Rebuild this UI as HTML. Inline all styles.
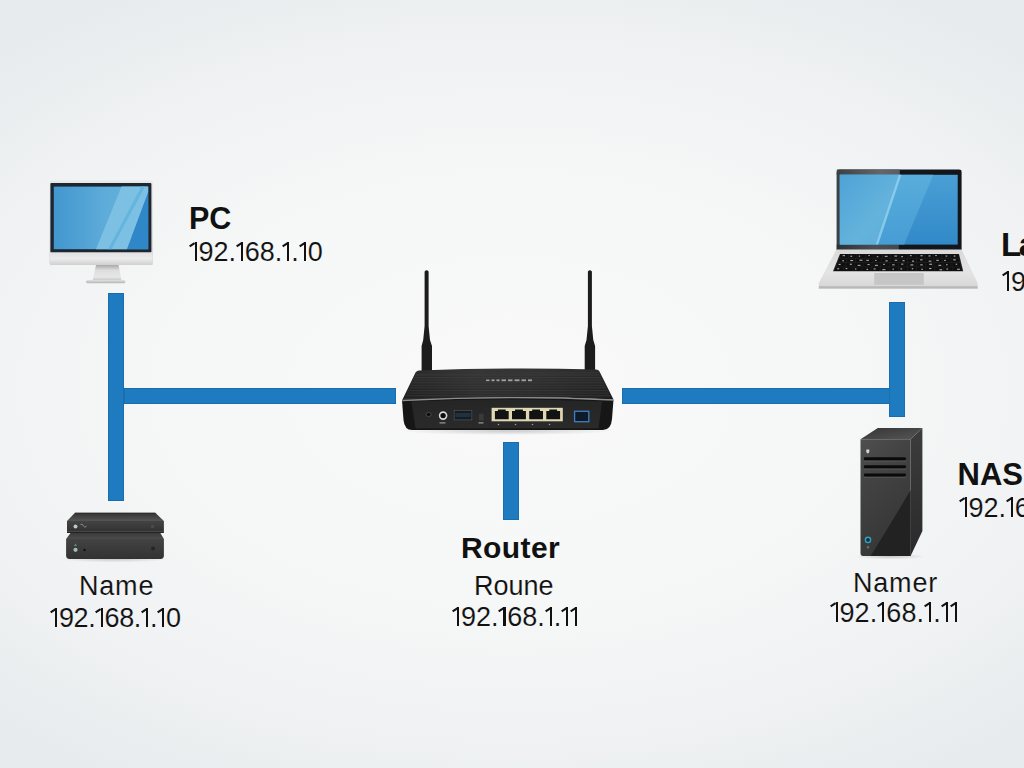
<!DOCTYPE html>
<html><head><meta charset="utf-8">
<style>
html,body{margin:0;padding:0;}
body{width:1024px;height:768px;position:relative;overflow:hidden;
 background:radial-gradient(ellipse 760px 460px at 512px 390px,#f9f9f9 0%,#f6f7f7 45%,#f0f2f3 75%,#e7ebed 100%);
 font-family:"Liberation Sans",sans-serif;color:#111;}
.ln{position:absolute;background:#1f7bc0;box-shadow:inset 0 0 0 0.7px rgba(10,50,90,0.25);}
.t{position:absolute;white-space:nowrap;line-height:1;}
.b{font-weight:bold;}
.r,.ip{font-size:27px;-webkit-text-stroke:0.12px #f4f5f5;}
.ip i{display:inline-block;position:relative;width:8.9px;height:19.4px;vertical-align:baseline;}
.ip i::before{content:"";position:absolute;right:1.8px;bottom:0;width:2.1px;height:19.4px;background:#111}
.ip i::after{content:"";position:absolute;right:3.6px;top:0;width:6.4px;height:2px;background:#111;transform-origin:right top;transform:rotate(-34deg)}
svg{position:absolute;overflow:visible;}

</style></head><body>
<svg width="1024" height="768" style="left:0;top:0">
<defs>
 <linearGradient id="silv" x1="0" y1="0" x2="0" y2="1">
  <stop offset="0" stop-color="#e9e9e9"/><stop offset="1" stop-color="#d3d3d3"/>
 </linearGradient>
 <linearGradient id="chin" x1="0" y1="0" x2="0" y2="1">
  <stop offset="0" stop-color="#e2e2e2"/><stop offset="0.5" stop-color="#ebebeb"/><stop offset="1" stop-color="#d0d0d0"/>
 </linearGradient>
 <linearGradient id="neck" x1="0" y1="0" x2="0" y2="1">
  <stop offset="0" stop-color="#a9a9a9"/><stop offset="0.35" stop-color="#dedede"/><stop offset="0.8" stop-color="#e6e6e6"/><stop offset="1" stop-color="#c8c8c8"/>
 </linearGradient>
 <linearGradient id="mscrL" x1="0" y1="0" x2="1" y2="0">
  <stop offset="0" stop-color="#4297cf"/><stop offset="0.55" stop-color="#5eacd9"/><stop offset="1" stop-color="#66b2db"/>
 </linearGradient>
 <linearGradient id="lscrL" x1="0" y1="0" x2="1" y2="1">
  <stop offset="0" stop-color="#4ea3d6"/><stop offset="0.6" stop-color="#64b3dc"/><stop offset="1" stop-color="#5aacd9"/>
 </linearGradient>
 <linearGradient id="scrR" x1="0" y1="0" x2="0" y2="1">
  <stop offset="0" stop-color="#4a9fd5"/><stop offset="1" stop-color="#3189c8"/>
 </linearGradient>
 <linearGradient id="scrM" x1="0" y1="0" x2="0" y2="1">
  <stop offset="0" stop-color="#58addb"/><stop offset="1" stop-color="#469dd4"/>
 </linearGradient>
 <linearGradient id="lidg" x1="0" y1="0" x2="1" y2="0">
  <stop offset="0" stop-color="#3c4044"/><stop offset="0.7" stop-color="#63676a"/><stop offset="1" stop-color="#5a5e61"/>
 </linearGradient>
 <linearGradient id="lidg2" x1="0" y1="0" x2="1" y2="0">
  <stop offset="0" stop-color="#2e3236"/><stop offset="0.6" stop-color="#4a4e52"/><stop offset="1" stop-color="#45494d"/>
 </linearGradient>
 <linearGradient id="sbase" x1="0" y1="0" x2="0" y2="1">
  <stop offset="0" stop-color="#e2e2e2"/><stop offset="1" stop-color="#b4b4b4"/>
 </linearGradient>
 <linearGradient id="lbase" x1="0" y1="0" x2="0" y2="1">
  <stop offset="0" stop-color="#d9d9d9"/><stop offset="0.6" stop-color="#e4e4e4"/><stop offset="1" stop-color="#d6d6d6"/>
 </linearGradient>
 <linearGradient id="rtop" x1="0" y1="0" x2="0" y2="1">
  <stop offset="0" stop-color="#2a2a2a"/><stop offset="1" stop-color="#1b1b1b"/>
 </linearGradient>
 <linearGradient id="rfront" x1="0" y1="0" x2="1" y2="0">
  <stop offset="0" stop-color="#2c2c2c"/><stop offset="0.06" stop-color="#1a1a1a"/><stop offset="0.5" stop-color="#1d1d1d"/><stop offset="0.94" stop-color="#1a1a1a"/><stop offset="1" stop-color="#2c2c2c"/>
 </linearGradient>
 <linearGradient id="rhl" x1="0" y1="0" x2="1" y2="0">
  <stop offset="0" stop-color="#fff" stop-opacity="0"/><stop offset="0.35" stop-color="#fff" stop-opacity="0.06"/><stop offset="0.6" stop-color="#fff" stop-opacity="0.05"/><stop offset="1" stop-color="#fff" stop-opacity="0"/>
 </linearGradient>
 <linearGradient id="rpanel" x1="0" y1="0" x2="0" y2="1">
  <stop offset="0" stop-color="#252525"/><stop offset="1" stop-color="#2a2a2a"/>
 </linearGradient>
 <pattern id="groove" width="4" height="2.6" patternUnits="userSpaceOnUse">
  <rect width="4" height="1.1" fill="#404040" opacity="0.6"/>
 </pattern>
 <linearGradient id="nasf" x1="0" y1="0" x2="0.4" y2="1">
  <stop offset="0" stop-color="#4f4f4f"/><stop offset="0.35" stop-color="#434343"/><stop offset="1" stop-color="#363636"/>
 </linearGradient>
 <linearGradient id="nass" x1="0" y1="0" x2="0" y2="1">
  <stop offset="0" stop-color="#3c3c3c"/><stop offset="1" stop-color="#2a2a2a"/>
 </linearGradient>
 <linearGradient id="nast" x1="0" y1="0" x2="1" y2="1">
  <stop offset="0" stop-color="#353535"/><stop offset="1" stop-color="#565656"/>
 </linearGradient>
 <linearGradient id="boxf" x1="0" y1="0" x2="0" y2="1">
  <stop offset="0" stop-color="#434343"/><stop offset="1" stop-color="#323232"/>
 </linearGradient>
 <linearGradient id="boxt" x1="0" y1="0" x2="0" y2="1">
  <stop offset="0" stop-color="#333"/><stop offset="1" stop-color="#555"/>
 </linearGradient>
 <linearGradient id="boxt2" x1="0" y1="0" x2="0" y2="1">
  <stop offset="0" stop-color="#3a3a3a"/><stop offset="1" stop-color="#4c4c4c"/>
 </linearGradient>
 <radialGradient id="shad" cx="0.5" cy="0.5" r="0.5">
  <stop offset="0" stop-color="#000" stop-opacity="0.18"/><stop offset="1" stop-color="#000" stop-opacity="0"/>
 </radialGradient>
</defs>

<!-- PC monitor -->
<g id="pc">
 <rect x="49.5" y="180.6" width="103.4" height="84.4" rx="2" fill="url(#silv)"/>
 <rect x="50.4" y="183.1" width="101" height="69.5" rx="1" fill="#1c2731"/>
 <rect x="53.8" y="186.6" width="94.4" height="62.6" fill="url(#mscrL)"/>
 <polygon points="121.5,186.6 148.2,186.6 148.2,192 127,249.2 96,249.2" fill="#7cc1e4"/>
 <polygon points="141.5,186.6 145,186.6 111.5,249.2 108,249.2" fill="#62b2dd" opacity="0.9"/>
 <polygon points="148.2,192 148.2,249.2 127,249.2" fill="#2f87c7"/>
 <rect x="50" y="252.5" width="102.6" height="12.4" fill="url(#chin)"/>
 <polygon points="96,265 118.6,265 121.4,280.2 92.7,280.2" fill="url(#neck)"/>
 <rect x="86" y="280" width="39.3" height="3.2" rx="1.5" fill="url(#sbase)"/>
</g>

<!-- Laptop -->
<g id="laptop">
 <path d="M836.8,250 L836.8,172 Q836.8,169.6 839.5,169.6 L959,169.6 Q961.6,169.6 961.6,172 L961.6,250 Z" fill="#13171b"/>
 <rect x="836.8" y="169.6" width="63" height="5.5" fill="url(#lidg)"/>
 <rect x="836.8" y="172" width="3.2" height="78" fill="#3c4044"/>
 <rect x="836.8" y="244.4" width="62" height="5.6" fill="url(#lidg2)"/>
 <rect x="839.8" y="174.8" width="117.9" height="69.8" fill="url(#scrR)"/>
 <polygon points="839.8,174.8 933.3,174.8 904.2,244.6 839.8,244.6" fill="url(#scrM)"/>
 <polygon points="839.8,174.8 899.7,174.8 876.5,244.6 839.8,244.6" fill="url(#lscrL)"/>
 <polygon points="898.9,174.8 901.4,174.8 878.2,244.6 875.7,244.6" fill="#9ad6f2" opacity="0.75"/>
 <path d="M836.5,249.5 L961.5,249.5 L977.6,283 L977.6,288.4 L818.8,288.4 L818.8,283 Z" fill="url(#lbase)"/>
 <rect x="818.8" y="286.2" width="158.8" height="2.4" fill="#b9b9b9"/>
 <g id="kb"><path d="M840,253.9 L959,253.9 L963.2,271.3 L833,271.3 Z" fill="#202020"/><rect x="840.3" y="254.3" width="7.8" height="3.6" fill="#0f0f0f"/><rect x="842.6" y="255.1" width="2.4" height="1.1" fill="#e0e0e0" opacity="0.75"/><rect x="848.8" y="254.3" width="7.8" height="3.6" fill="#0f0f0f"/><rect x="850.3" y="255.7" width="1.9" height="1.1" fill="#e0e0e0" opacity="0.75"/><rect x="857.2" y="254.3" width="7.8" height="3.6" fill="#0f0f0f"/><rect x="858.8" y="255.6" width="1.3" height="1.1" fill="#e0e0e0" opacity="0.75"/><rect x="865.7" y="254.3" width="7.8" height="3.6" fill="#0f0f0f"/><rect x="868.4" y="255.0" width="1.4" height="1.1" fill="#e0e0e0" opacity="0.75"/><rect x="874.2" y="254.3" width="7.8" height="3.6" fill="#0f0f0f"/><rect x="876.8" y="256.1" width="1.5" height="1.1" fill="#e0e0e0" opacity="0.75"/><rect x="882.7" y="254.3" width="7.8" height="3.6" fill="#0f0f0f"/><rect x="884.7" y="255.8" width="2.9" height="1.1" fill="#e0e0e0" opacity="0.75"/><rect x="891.2" y="254.3" width="7.8" height="3.6" fill="#0f0f0f"/><rect x="894.3" y="255.5" width="2.9" height="1.1" fill="#e0e0e0" opacity="0.75"/><rect x="899.7" y="254.3" width="7.8" height="3.6" fill="#0f0f0f"/><rect x="901.2" y="256.1" width="1.8" height="1.1" fill="#e0e0e0" opacity="0.75"/><rect x="908.2" y="254.3" width="7.8" height="3.6" fill="#0f0f0f"/><rect x="909.9" y="255.1" width="1.8" height="1.1" fill="#e0e0e0" opacity="0.75"/><rect x="916.6" y="254.3" width="7.8" height="3.6" fill="#0f0f0f"/><rect x="920.4" y="255.2" width="2.3" height="1.1" fill="#e0e0e0" opacity="0.75"/><rect x="925.1" y="254.3" width="7.8" height="3.6" fill="#0f0f0f"/><rect x="928.4" y="255.4" width="2.2" height="1.1" fill="#e0e0e0" opacity="0.75"/><rect x="933.6" y="254.3" width="7.8" height="3.6" fill="#0f0f0f"/><rect x="935.2" y="255.0" width="1.6" height="1.1" fill="#e0e0e0" opacity="0.75"/><rect x="942.1" y="254.3" width="7.8" height="3.6" fill="#0f0f0f"/><rect x="945.5" y="255.5" width="1.8" height="1.1" fill="#e0e0e0" opacity="0.75"/><rect x="950.6" y="254.3" width="7.8" height="3.6" fill="#0f0f0f"/><rect x="953.7" y="255.5" width="1.8" height="1.1" fill="#e0e0e0" opacity="0.75"/><rect x="838.5" y="258.6" width="8.0" height="3.6" fill="#0f0f0f"/><rect x="842.3" y="260.2" width="1.7" height="1.1" fill="#e0e0e0" opacity="0.75"/><rect x="847.2" y="258.6" width="8.0" height="3.6" fill="#0f0f0f"/><rect x="850.3" y="260.0" width="2.8" height="1.1" fill="#e0e0e0" opacity="0.75"/><rect x="855.9" y="258.6" width="8.0" height="3.6" fill="#0f0f0f"/><rect x="859.5" y="259.7" width="3.0" height="1.1" fill="#e0e0e0" opacity="0.75"/><rect x="864.6" y="258.6" width="8.0" height="3.6" fill="#0f0f0f"/><rect x="866.3" y="259.8" width="2.6" height="1.1" fill="#e0e0e0" opacity="0.75"/><rect x="873.3" y="258.6" width="8.0" height="3.6" fill="#0f0f0f"/><rect x="875.1" y="259.9" width="1.4" height="1.1" fill="#e0e0e0" opacity="0.75"/><rect x="882.0" y="258.6" width="8.0" height="3.6" fill="#0f0f0f"/><rect x="885.4" y="260.3" width="2.3" height="1.1" fill="#e0e0e0" opacity="0.75"/><rect x="890.6" y="258.6" width="8.0" height="3.6" fill="#0f0f0f"/><rect x="894.7" y="259.7" width="2.5" height="1.1" fill="#e0e0e0" opacity="0.75"/><rect x="899.3" y="258.6" width="8.0" height="3.6" fill="#0f0f0f"/><rect x="902.5" y="260.1" width="2.1" height="1.1" fill="#e0e0e0" opacity="0.75"/><rect x="908.0" y="258.6" width="8.0" height="3.6" fill="#0f0f0f"/><rect x="912.0" y="260.6" width="2.1" height="1.1" fill="#e0e0e0" opacity="0.75"/><rect x="916.7" y="258.6" width="8.0" height="3.6" fill="#0f0f0f"/><rect x="920.1" y="259.3" width="2.5" height="1.1" fill="#e0e0e0" opacity="0.75"/><rect x="925.4" y="258.6" width="8.0" height="3.6" fill="#0f0f0f"/><rect x="928.7" y="260.6" width="2.7" height="1.1" fill="#e0e0e0" opacity="0.75"/><rect x="934.1" y="258.6" width="8.0" height="3.6" fill="#0f0f0f"/><rect x="936.3" y="259.8" width="2.5" height="1.1" fill="#e0e0e0" opacity="0.75"/><rect x="942.8" y="258.6" width="8.0" height="3.6" fill="#0f0f0f"/><rect x="944.2" y="259.9" width="1.6" height="1.1" fill="#e0e0e0" opacity="0.75"/><rect x="951.4" y="258.6" width="8.0" height="3.6" fill="#0f0f0f"/><rect x="953.2" y="259.3" width="2.6" height="1.1" fill="#e0e0e0" opacity="0.75"/><rect x="836.8" y="263.0" width="8.2" height="3.6" fill="#0f0f0f"/><rect x="838.6" y="263.9" width="2.0" height="1.1" fill="#e0e0e0" opacity="0.75"/><rect x="845.7" y="263.0" width="8.2" height="3.6" fill="#0f0f0f"/><rect x="849.8" y="263.7" width="2.1" height="1.1" fill="#e0e0e0" opacity="0.75"/><rect x="854.5" y="263.0" width="8.2" height="3.6" fill="#0f0f0f"/><rect x="857.7" y="264.8" width="2.8" height="1.1" fill="#e0e0e0" opacity="0.75"/><rect x="863.4" y="263.0" width="8.2" height="3.6" fill="#0f0f0f"/><rect x="867.5" y="264.0" width="2.1" height="1.1" fill="#e0e0e0" opacity="0.75"/><rect x="872.3" y="263.0" width="8.2" height="3.6" fill="#0f0f0f"/><rect x="874.9" y="264.8" width="3.0" height="1.1" fill="#e0e0e0" opacity="0.75"/><rect x="881.2" y="263.0" width="8.2" height="3.6" fill="#0f0f0f"/><rect x="883.1" y="263.8" width="1.7" height="1.1" fill="#e0e0e0" opacity="0.75"/><rect x="890.1" y="263.0" width="8.2" height="3.6" fill="#0f0f0f"/><rect x="892.2" y="264.3" width="2.4" height="1.1" fill="#e0e0e0" opacity="0.75"/><rect x="899.0" y="263.0" width="8.2" height="3.6" fill="#0f0f0f"/><rect x="901.2" y="263.6" width="2.1" height="1.1" fill="#e0e0e0" opacity="0.75"/><rect x="907.9" y="263.0" width="8.2" height="3.6" fill="#0f0f0f"/><rect x="910.4" y="264.4" width="3.0" height="1.1" fill="#e0e0e0" opacity="0.75"/><rect x="916.7" y="263.0" width="8.2" height="3.6" fill="#0f0f0f"/><rect x="920.3" y="264.3" width="2.4" height="1.1" fill="#e0e0e0" opacity="0.75"/><rect x="925.6" y="263.0" width="8.2" height="3.6" fill="#0f0f0f"/><rect x="929.2" y="263.7" width="2.9" height="1.1" fill="#e0e0e0" opacity="0.75"/><rect x="934.5" y="263.0" width="8.2" height="3.6" fill="#0f0f0f"/><rect x="938.4" y="264.8" width="2.8" height="1.1" fill="#e0e0e0" opacity="0.75"/><rect x="943.4" y="263.0" width="8.2" height="3.6" fill="#0f0f0f"/><rect x="946.1" y="264.2" width="1.5" height="1.1" fill="#e0e0e0" opacity="0.75"/><rect x="952.3" y="263.0" width="8.2" height="3.6" fill="#0f0f0f"/><rect x="955.7" y="263.7" width="1.5" height="1.1" fill="#e0e0e0" opacity="0.75"/><rect x="835.0" y="267.3" width="8.4" height="3.6" fill="#0f0f0f"/><rect x="837.2" y="268.2" width="2.0" height="1.1" fill="#e0e0e0" opacity="0.75"/><rect x="844.1" y="267.3" width="8.4" height="3.6" fill="#0f0f0f"/><rect x="845.7" y="268.0" width="1.6" height="1.1" fill="#e0e0e0" opacity="0.75"/><rect x="853.2" y="267.3" width="8.4" height="3.6" fill="#0f0f0f"/><rect x="855.0" y="268.5" width="1.4" height="1.1" fill="#e0e0e0" opacity="0.75"/><rect x="862.3" y="267.3" width="8.4" height="3.6" fill="#0f0f0f"/><rect x="866.5" y="268.8" width="1.6" height="1.1" fill="#e0e0e0" opacity="0.75"/><rect x="871.4" y="267.3" width="8.4" height="3.6" fill="#0f0f0f"/><rect x="873.6" y="268.4" width="2.0" height="1.1" fill="#e0e0e0" opacity="0.75"/><rect x="880.5" y="267.3" width="8.4" height="3.6" fill="#0f0f0f"/><rect x="882.3" y="269.1" width="3.2" height="1.1" fill="#e0e0e0" opacity="0.75"/><rect x="889.5" y="267.3" width="8.4" height="3.6" fill="#0f0f0f"/><rect x="892.5" y="268.6" width="1.5" height="1.1" fill="#e0e0e0" opacity="0.75"/><rect x="898.6" y="267.3" width="8.4" height="3.6" fill="#0f0f0f"/><rect x="900.4" y="268.4" width="1.8" height="1.1" fill="#e0e0e0" opacity="0.75"/><rect x="907.7" y="267.3" width="8.4" height="3.6" fill="#0f0f0f"/><rect x="911.8" y="268.2" width="1.4" height="1.1" fill="#e0e0e0" opacity="0.75"/><rect x="916.8" y="267.3" width="8.4" height="3.6" fill="#0f0f0f"/><rect x="921.3" y="268.7" width="1.6" height="1.1" fill="#e0e0e0" opacity="0.75"/><rect x="925.9" y="267.3" width="8.4" height="3.6" fill="#0f0f0f"/><rect x="929.1" y="268.0" width="2.3" height="1.1" fill="#e0e0e0" opacity="0.75"/><rect x="935.0" y="267.3" width="8.4" height="3.6" fill="#0f0f0f"/><rect x="939.5" y="269.2" width="2.6" height="1.1" fill="#e0e0e0" opacity="0.75"/><rect x="944.1" y="267.3" width="8.4" height="3.6" fill="#0f0f0f"/><rect x="946.4" y="268.5" width="1.7" height="1.1" fill="#e0e0e0" opacity="0.75"/><rect x="953.1" y="267.3" width="8.4" height="3.6" fill="#0f0f0f"/><rect x="957.1" y="268.7" width="2.8" height="1.1" fill="#e0e0e0" opacity="0.75"/></g>
 <rect x="874.2" y="273" width="49.6" height="11.8" fill="#c6c6c6"/>
</g>

<!-- Router -->
<g id="router">
 <ellipse cx="508" cy="431" rx="108" ry="4" fill="url(#shad)"/>
 <path d="M424.6,326 L424.6,271.5 Q426.6,269 428.6,271.5 L428.6,326 L430,340 L432,346 L432,371 L421.6,371 L421.6,346 L423.2,340 Z" fill="#1c1c1c"/>
 <path d="M587.9,326 L587.9,271.5 Q589.9,269 591.9,271.5 L591.9,326 L593.3,340 L595.1,346 L595.1,371 L584.7,371 L584.7,346 L586.5,340 Z" fill="#1c1c1c"/>
 <path d="M402,400.6 L415.5,372.5 Q417,370.5 419,370.5 Q508,367 596,369.5 Q598.5,369.5 599.5,371.5 L613.5,399.5 Q508,394.5 402,400.6 Z" fill="url(#rtop)"/>
 <path d="M402,400.6 L415.5,372.5 Q417,370.5 419,370.5 Q508,367 596,369.5 Q598.5,369.5 599.5,371.5 L613.5,399.5 Q508,394.5 402,400.6 Z" fill="url(#rhl)"/>
 <path d="M404,399 L416,373 L598,372 L611.5,398 Z" fill="url(#groove)"/>
 <path d="M402,400.3 Q508,394.8 613.5,399.8 L612,419 Q611,430 603,430 L412,430 Q404.5,430 403.5,420 Z" fill="#161616"/>
 <path d="M411.5,401.5 Q508,397.5 602,401.5 L598.5,428.2 L415.5,428.2 Z" fill="url(#rpanel)"/>
 <path d="M402.3,400.5 Q508,395 613.3,400" stroke="#8d8d8d" stroke-width="1.3" fill="none"/>
 <rect x="491.6" y="407.8" width="71.2" height="13.5" fill="#e0d7b5"/>
 <path d="M494.9,411 h3 v-1.6 h7.8 v1.6 h3 v8.3 h-13.8 Z" fill="#121212"/>
 <path d="M512,411 h3 v-1.6 h7.9 v1.6 h3 v8.3 h-13.9 Z" fill="#121212"/>
 <path d="M529.2,411 h3 v-1.6 h7.8 v1.6 h3 v8.3 h-13.8 Z" fill="#121212"/>
 <path d="M546.3,411 h3 v-1.6 h7.8 v1.6 h3 v8.3 h-13.8 Z" fill="#121212"/>
 <rect x="574.6" y="411.3" width="14.2" height="10.4" fill="#0e1a28" stroke="#3c7fc4" stroke-width="1.3"/>
 <rect x="454.2" y="410.3" width="17.6" height="9.6" fill="#141c24" stroke="#4a5560" stroke-width="0.7"/>
 <rect x="455.5" y="413" width="15" height="4" fill="#2a3a48" opacity="0.7"/>
 <circle cx="443.1" cy="415.6" r="3.5" fill="#0c0c0c" stroke="#d8d8d8" stroke-width="1.6"/>
 <ellipse cx="428.6" cy="414.5" rx="2.6" ry="2" fill="#0d0d0d" stroke="#555" stroke-width="0.8"/>
 <rect x="479" y="413.7" width="4.6" height="6.8" fill="#3a3a3a"/>
 <g fill="#9a9a9a">
  <circle cx="498.5" cy="424.5" r="0.8"/><circle cx="515.5" cy="424.5" r="0.8"/><circle cx="532.5" cy="424.5" r="0.8"/><circle cx="549.5" cy="424.5" r="0.8"/>
  <rect x="439.5" y="422.3" width="6" height="1.2"/><rect x="478.5" y="422.3" width="5" height="1.2"/>
 </g>
 <g fill="#c8c8c8" opacity="0.75">
  <rect x="486" y="379.6" width="3.5" height="1.5"/><rect x="491.5" y="379.4" width="3" height="1.8"/><rect x="496.5" y="379.4" width="3" height="1.8"/><rect x="501.5" y="379.4" width="4.5" height="1.8"/><rect x="508" y="379.4" width="4.5" height="1.8"/><rect x="514.5" y="379.4" width="5" height="1.8"/><rect x="521.5" y="379.4" width="4.5" height="1.8"/><rect x="528" y="379.4" width="4" height="1.8"/>
 </g>
</g>

<!-- NAS tower -->
<g id="nas">
 <ellipse cx="890" cy="556.5" rx="36" ry="3" fill="url(#shad)"/>
 <polygon points="860.5,439.2 877.8,428 922.4,428 910.6,439.2" fill="url(#nast)"/>
 <polygon points="910.6,439.2 922.4,428 922.4,531 910.6,556" fill="url(#nass)"/>
 <path d="M860.5,439.2 L910.6,439.2 L910.6,556 L863,556 Q860.5,556 860.5,553 Z" fill="url(#nasf)"/>
 <path d="M910.6,490 Q893,520 870.6,556 L910.6,556 Z" fill="#1e1e1e" opacity="0.85"/>
 <g fill="#5c5c5c" opacity="0.6">
  <rect x="864" y="460.6" width="42" height="1.2"/><rect x="864" y="468.6" width="42" height="1.2"/><rect x="864" y="476.8" width="42" height="1.2"/>
 </g>
 <rect x="863.8" y="457.2" width="42.2" height="3.1" rx="1.4" fill="#0a0a0a"/>
 <rect x="863.8" y="465.2" width="42.2" height="3.1" rx="1.4" fill="#0a0a0a"/>
 <rect x="863.8" y="473.4" width="42.2" height="3.1" rx="1.4" fill="#0a0a0a"/>
 <path d="M866.3,449.6 h3 v2 q0,1.6 -1.5,2 q-1.5,-0.4 -1.5,-2 z" fill="#d4d4d4"/>
 <circle cx="868" cy="539.9" r="2.6" fill="#103038" stroke="#2fa2c2" stroke-width="1.4"/>
 <rect x="866.8" y="546" width="2.4" height="2.4" fill="#5b6b6e"/>
</g>

<!-- Stacked boxes -->
<g id="boxes">
 <ellipse cx="115" cy="559" rx="56" ry="3.5" fill="url(#shad)"/>
 <polygon points="75,512.8 155.3,512.8 163.9,521 67,521" fill="url(#boxt)"/>
 <rect x="75" y="512.8" width="80.3" height="1.2" fill="#2e2e2e"/>
 <rect x="67" y="521" width="96.9" height="10.6" fill="url(#boxf)"/>
 <rect x="67" y="531.4" width="96.9" height="1.6" fill="#232323"/>
 <polygon points="70.5,533 160.4,533 163.9,539 66.1,539" fill="url(#boxt2)"/>
 <path d="M66.1,539 L163.9,539 L163.9,555.5 Q163.9,558.9 160.5,558.9 L69.5,558.9 Q66.1,558.9 66.1,555.5 Z" fill="url(#boxf)"/>
 <circle cx="75.5" cy="526.4" r="2" fill="#b8cbc6"/>
 <path d="M80.5,524.5 q2,-1.2 3,1.5 q1,2.2 3,0.2" stroke="#8a9a96" stroke-width="0.9" fill="none"/>
 <circle cx="75.5" cy="549.8" r="2.1" fill="#9dbdb5"/>
 <path d="M74,546 l1.5,-2.5 l1.5,2.5 z" fill="#6f8a84"/>
 <circle cx="84.5" cy="550" r="1.2" fill="#111"/>
 <circle cx="153" cy="548.5" r="2" fill="#262626"/>
 <rect x="151" y="525" width="3" height="3" fill="#555" opacity="0.6"/>
</g>
</svg>

<div class="ln" style="left:108px;top:293px;width:16px;height:208px"></div>
<div class="ln" style="left:124px;top:388px;width:272px;height:16px"></div>
<div class="ln" style="left:503px;top:442px;width:16px;height:78px"></div>
<div class="ln" style="left:622px;top:388px;width:283px;height:16px"></div>
<div class="ln" style="left:889px;top:302px;width:16px;height:115px"></div>

<div class="t b" style="left:189px;top:203px;font-size:30.5px">PC</div>
<div class="t ip" style="left:189.5px;top:239px"><i></i>92.<i></i>68.<i></i>.<i></i>0</div>

<div class="t b" style="left:461px;top:532.5px;font-size:30px;letter-spacing:0.4px">Router</div>
<div class="t r" style="left:474px;top:573px">Roune</div>
<div class="t ip" style="left:452px;top:604px"><i></i>92.<i></i>68.<i></i>.<i></i><i></i></div>

<div class="t r" style="left:79px;top:573px;letter-spacing:0.8px">Name</div>
<div class="t ip" style="left:50px;top:605px;letter-spacing:-0.3px"><i></i>92.<i></i>68.<i></i>.<i></i>0</div>

<div class="t r" style="left:853px;top:570px;letter-spacing:0.8px">Namer</div>
<div class="t ip" style="left:830.5px;top:599.8px;letter-spacing:0.15px"><i></i>92.<i></i>68.<i></i>.<i></i><i></i></div>

<div class="t b" style="left:1001px;top:228px;font-size:33px;letter-spacing:-2.5px">Laptop</div>
<div class="t ip" style="left:1002px;top:268.5px"><i></i>92.<i></i>68.<i></i>.<i></i>2</div>

<div class="t b" style="left:957.5px;top:459px;font-size:31px">NAS</div>
<div class="t ip" style="left:959.5px;top:494.5px"><i></i>92.<i></i>68.<i></i>.<i></i>3</div>

</body></html>
